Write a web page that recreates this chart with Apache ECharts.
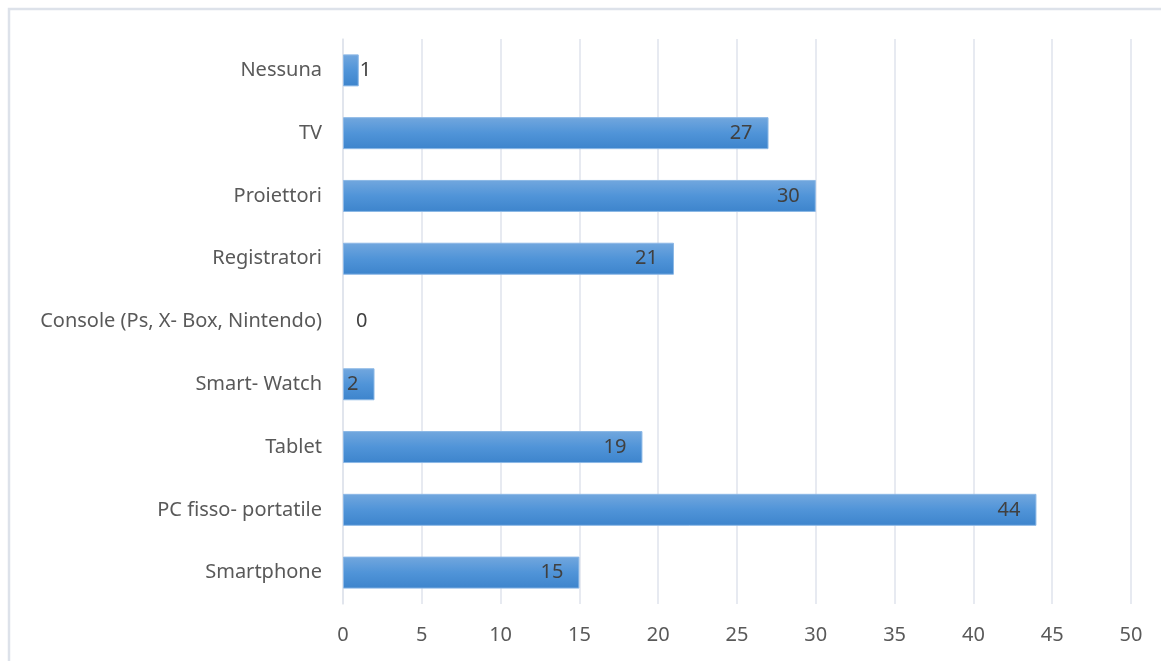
<!DOCTYPE html>
<html><head><meta charset="utf-8">
<script src="https://cdn.jsdelivr.net/npm/echarts@6/dist/echarts.min.js"></script>
<style>html,body{margin:0;padding:0;background:#fff;}#c{width:1161px;height:661px;}</style>
</head><body><div id="c"></div>
<script>
var categories = ['Smartphone','PC fisso- portatile','Tablet','Smart- Watch','Console (Ps, X- Box, Nintendo)','Registratori','Proiettori','TV','Nessuna'];
var values = [15,44,19,2,0,21,30,27,1];
var xTicks = {min:0, max:50, interval:5};

var chart = echarts.init(document.getElementById('c'));
var font = 'Noto Sans';
chart.setOption({
  animation:false,
  graphic:[{type:'rect',shape:{x:9,y:9,width:1200,height:700},style:{fill:'none',stroke:'#dde2ea',lineWidth:2.5},silent:true}],
  grid:{left:343,right:30,top:39,bottom:57,containLabel:false},
  xAxis:{type:'value',min:xTicks.min,max:xTicks.max,interval:xTicks.interval,
    axisLine:{show:false},axisTick:{show:false},
    splitLine:{lineStyle:{color:'#dfe3ec',width:1.5}},
    axisLabel:{color:'#595959',fontFamily:font,fontSize:20,margin:21}},
  yAxis:{type:'category',data:categories,
    axisLine:{show:true,lineStyle:{color:'#dfe3ec',width:1.5}},axisTick:{show:false},
    axisLabel:{color:'#595959',fontFamily:font,fontSize:20,margin:21,padding:[3,0,0,0]}},
  series:[{type:'bar',barWidth:32,
    data:values.map(function(v){
      var d = {value:v,label:{}};
      if(v===0){d.label={position:'right',distance:13};d.itemStyle={borderWidth:0};}
      else if(v<2){d.label={position:'right',distance:1};}
      return d;
    }),
    itemStyle:{color:new echarts.graphic.LinearGradient(0,0,0,1,[{offset:0,color:'#72a7de'},{offset:0.5,color:'#5094d8'},{offset:1,color:'#3d84cc'}]),
      borderColor:'#8cb8e6',borderWidth:1},
    label:{show:true,position:'insideRight',distance:16,color:'#404040',fontFamily:font,fontSize:20,padding:[3,0,0,0]}
  }]
});
</script></body></html>
